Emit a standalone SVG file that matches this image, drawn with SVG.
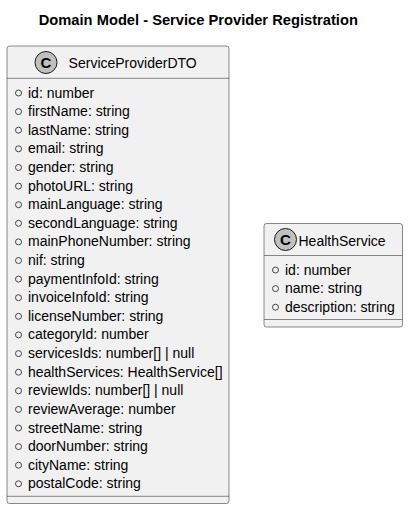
<svg xmlns="http://www.w3.org/2000/svg" width="408" height="510" viewBox="0 0 408 510">
<style>
.box{fill:#F1F1F1;stroke:#181818;stroke-width:0.5}
.sep{stroke:#181818;stroke-width:0.5}
.ic{fill:#C0C0C0;stroke:#181818;stroke-width:1}
.icl{font-family:"Liberation Sans",Arial,sans-serif;font-size:15px;font-weight:bold;fill:#000;text-anchor:middle}
.name{font-family:"Liberation Sans",Arial,sans-serif;font-size:14px;fill:#000}
.attr{font-family:"Liberation Sans",Arial,sans-serif;font-size:14px;fill:#000}
.vis{fill:none;stroke:#444;stroke-width:1}
.title{font-family:"Liberation Sans",Arial,sans-serif;font-size:14.7px;font-weight:bold;fill:#000;text-anchor:middle}
</style>
<rect width="408" height="510" fill="#FFFFFF"/>
<text class="title" x="198.3" y="25">Domain Model - Service Provider Registration</text>
<g id="ServiceProviderDTO">
<rect class="box" x="7" y="46" width="222" height="457.5" rx="2.5"/>
<circle class="ic" cx="46" cy="62.5" r="11"/>
<text class="icl" x="46" y="67.8">C</text>
<text class="name" x="68.6" y="68.3">ServiceProviderDTO</text>
<line class="sep" x1="7" y1="78.3" x2="229" y2="78.3"/>
<g>
<circle class="vis" cx="18.5" cy="93" r="3"/><text class="attr" x="28" y="97.5">id: number</text>
<circle class="vis" cx="18.5" cy="111.6" r="3"/><text class="attr" x="28" y="116.1">firstName: string</text>
<circle class="vis" cx="18.5" cy="130.2" r="3"/><text class="attr" x="28" y="134.7">lastName: string</text>
<circle class="vis" cx="18.5" cy="148.8" r="3"/><text class="attr" x="28" y="153.3">email: string</text>
<circle class="vis" cx="18.5" cy="167.5" r="3"/><text class="attr" x="28" y="172">gender: string</text>
<circle class="vis" cx="18.5" cy="186.1" r="3"/><text class="attr" x="28" y="190.6">photoURL: string</text>
<circle class="vis" cx="18.5" cy="204.7" r="3"/><text class="attr" x="28" y="209.2">mainLanguage: string</text>
<circle class="vis" cx="18.5" cy="223.3" r="3"/><text class="attr" x="28" y="227.8">secondLanguage: string</text>
<circle class="vis" cx="18.5" cy="241.9" r="3"/><text class="attr" x="28" y="246.4">mainPhoneNumber: string</text>
<circle class="vis" cx="18.5" cy="260.5" r="3"/><text class="attr" x="28" y="265">nif: string</text>
<circle class="vis" cx="18.5" cy="279.1" r="3"/><text class="attr" x="28" y="283.6">paymentInfoId: string</text>
<circle class="vis" cx="18.5" cy="297.7" r="3"/><text class="attr" x="28" y="302.2">invoiceInfoId: string</text>
<circle class="vis" cx="18.5" cy="316.3" r="3"/><text class="attr" x="28" y="320.8">licenseNumber: string</text>
<circle class="vis" cx="18.5" cy="334.9" r="3"/><text class="attr" x="28" y="339.4">categoryId: number</text>
<circle class="vis" cx="18.5" cy="353.6" r="3"/><text class="attr" x="28" y="358.1">servicesIds: number[] | null</text>
<circle class="vis" cx="18.5" cy="372.2" r="3"/><text class="attr" x="28" y="376.7">healthServices: HealthService[]</text>
<circle class="vis" cx="18.5" cy="390.8" r="3"/><text class="attr" x="28" y="395.3">reviewIds: number[] | null</text>
<circle class="vis" cx="18.5" cy="409.4" r="3"/><text class="attr" x="28" y="413.9">reviewAverage: number</text>
<circle class="vis" cx="18.5" cy="428" r="3"/><text class="attr" x="28" y="432.5">streetName: string</text>
<circle class="vis" cx="18.5" cy="446.6" r="3"/><text class="attr" x="28" y="451.1">doorNumber: string</text>
<circle class="vis" cx="18.5" cy="465.2" r="3"/><text class="attr" x="28" y="469.7">cityName: string</text>
<circle class="vis" cx="18.5" cy="483.8" r="3"/><text class="attr" x="28" y="488.3">postalCode: string</text>
</g>
<line class="sep" x1="7" y1="496.3" x2="229" y2="496.3"/>
</g>
<g id="HealthService">
<rect class="box" x="264" y="223.5" width="138.5" height="103.5" rx="2.5"/>
<circle class="ic" cx="285.5" cy="239.5" r="11"/>
<text class="icl" x="285.5" y="244.8">C</text>
<text class="name" x="298.5" y="245.5">HealthService</text>
<line class="sep" x1="264" y1="255.5" x2="402.5" y2="255.5"/>
<circle class="vis" cx="275.5" cy="270" r="3"/><text class="attr" x="285" y="274.5">id: number</text>
<circle class="vis" cx="275.5" cy="288.6" r="3"/><text class="attr" x="285" y="293.1">name: string</text>
<circle class="vis" cx="275.5" cy="307.2" r="3"/><text class="attr" x="285" y="311.7">description: string</text>
<line class="sep" x1="264" y1="319.5" x2="402.5" y2="319.5"/>
</g>
<g id="connectors"></g>
</svg>
